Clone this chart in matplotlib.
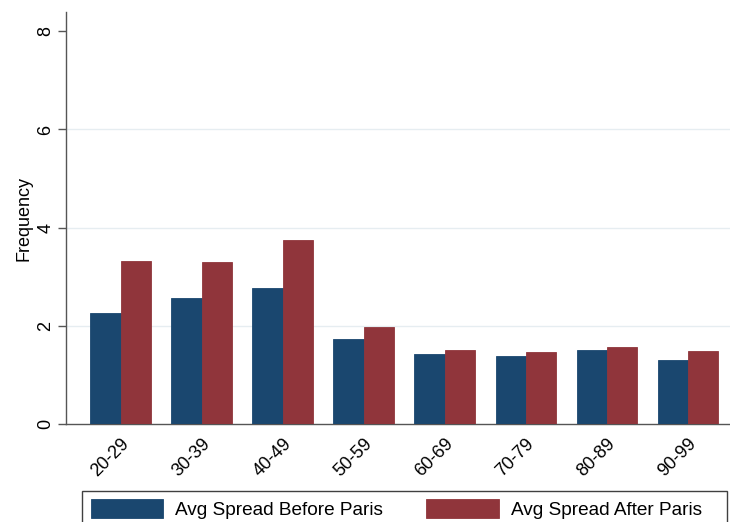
import matplotlib
matplotlib.use("Agg")
import matplotlib.pyplot as plt
from matplotlib.patches import Rectangle
import numpy as np

plt.rcParams['font.family'] = ['Liberation Sans', 'DejaVu Sans']

categories = ["20-29", "30-39", "40-49", "50-59", "60-69", "70-79", "80-89", "90-99"]
before = [2.26, 2.58, 2.77, 1.73, 1.44, 1.40, 1.51, 1.31]
after = [3.32, 3.30, 3.76, 1.97, 1.51, 1.47, 1.57, 1.50]
series_labels = ["Avg Spread Before Paris", "Avg Spread After Paris"]
yticks = [0, 2, 4, 6, 8]

navy = "#1a476f"
maroon = "#90353b"
W, H = 730, 522
fig = plt.figure(figsize=(W / 100, H / 100), dpi=100)
ax = fig.add_axes([65.5 / W, (H - 424.3) / H, (W - 65.5) / W, (424.3 - 12) / H])

x = np.arange(len(categories))
bw = 0.374
ax.bar(x - bw / 2, before, width=bw, color=navy, edgecolor=navy, linewidth=0.6,
       label=series_labels[0], zorder=3)
ax.bar(x + bw / 2, after, width=bw, color=maroon, edgecolor=maroon, linewidth=0.6,
       label=series_labels[1], zorder=3)

ax.set_xlim(-0.679, 7.519)
ax.set_ylim(0, 8.39)
ax.set_yticks(yticks)
ax.set_yticklabels([str(v) for v in yticks], rotation=90, va='center', fontsize=13)
ax.tick_params(axis='y', length=6, width=1, color='#555555', pad=2)
ax.set_xticks(x)
ax.set_xticklabels(categories, rotation=45, ha='right', rotation_mode='anchor', fontsize=13)
ax.tick_params(axis='x', length=0, pad=8)

ax.yaxis.grid(True, color='#e6edf1', linewidth=1, zorder=0)
for v, gl in zip(yticks, ax.get_ygridlines()):
    if v in (0, 8):
        gl.set_visible(False)

for s in ['top', 'right']:
    ax.spines[s].set_visible(False)
for s in ['left', 'bottom']:
    ax.spines[s].set_color('#555555')
    ax.spines[s].set_linewidth(1)

ax.set_ylabel("Frequency", fontsize=13)
ax.yaxis.set_label_coords(-0.0497, 0.5)

leg = fig.legend(loc='upper left',
                 bbox_to_anchor=(82 / W, (H - 490.7) / H),
                 ncol=2, fontsize=13.7, frameon=False,
                 handlelength=3.8, handleheight=1.15, handletextpad=0.63,
                 borderpad=0.45, borderaxespad=0, columnspacing=2.3)

# legend frame (extends past the bottom edge, as in the reference)
frame = Rectangle((82 / W, -0.05), (727 - 82) / W, (H - 490.7) / H + 0.05,
                  transform=fig.transFigure, fill=False, edgecolor='#404040',
                  linewidth=1)
fig.add_artist(frame)

fig.savefig("out.png", dpi=100)
